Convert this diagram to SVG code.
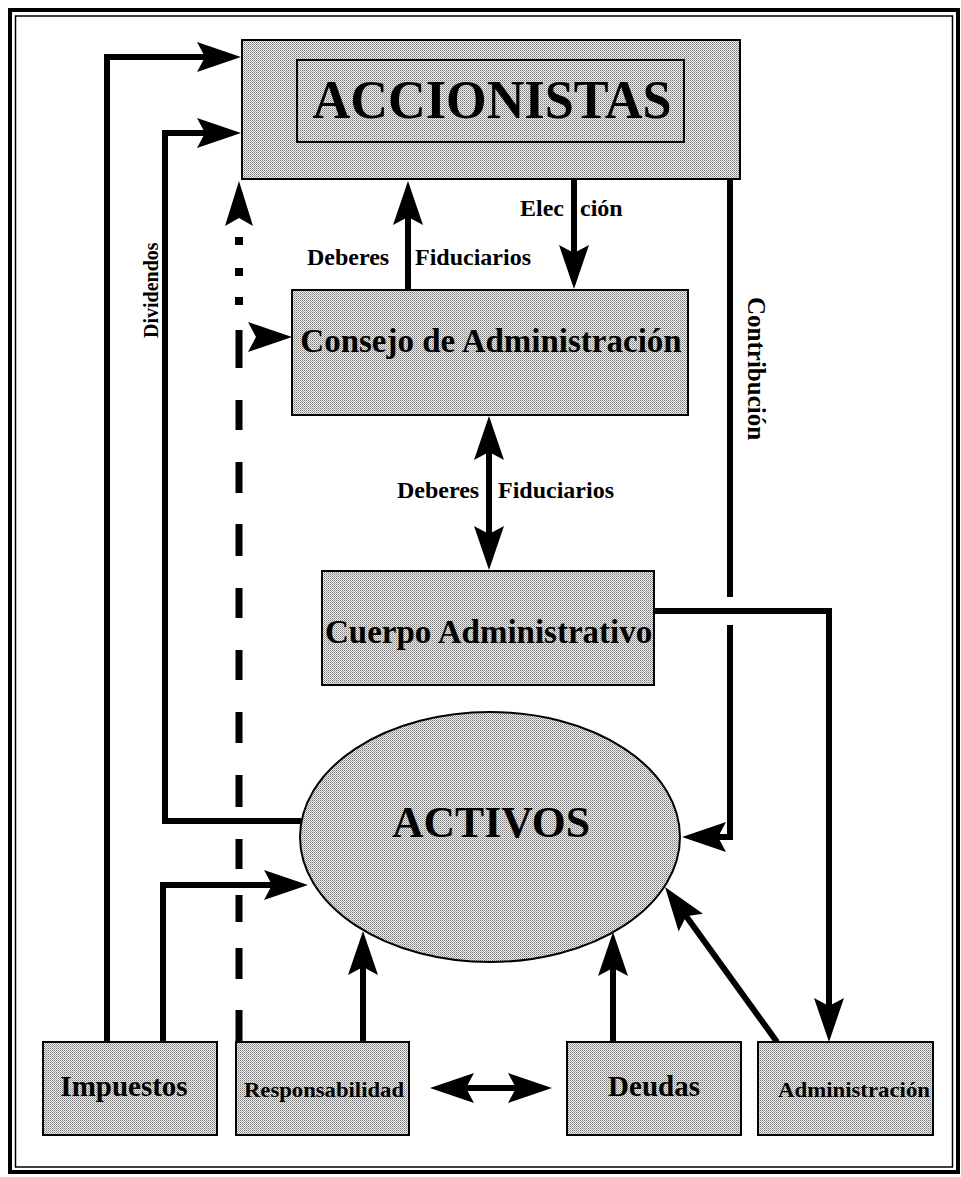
<svg xmlns="http://www.w3.org/2000/svg" width="961" height="1177" viewBox="0 0 961 1177">
<defs>
<pattern id="stip" width="2" height="2" patternUnits="userSpaceOnUse">
<rect width="2" height="2" fill="#eeeeee"/>
<rect x="0" y="0" width="1" height="1" fill="#7a7a7a"/>
<rect x="1" y="1" width="1" height="1" fill="#a8a8a8"/>
</pattern>
<marker id="ah" viewBox="-16 -16 48 32" refX="0" refY="0" markerWidth="48" markerHeight="32" markerUnits="userSpaceOnUse" orient="auto-start-reverse" overflow="visible">
<path d="M30,0 L-14,-15 L-6,0 L-14,15 Z" fill="#000"/>
</marker>
<style>
.box{fill:url(#stip);stroke:#000;stroke-width:2}
.ln{fill:none;stroke:#000;stroke-width:6;stroke-linejoin:miter}
.t{font-family:"Liberation Serif","Times New Roman",serif;font-weight:bold;fill:#000}
</style>
</defs>
<rect width="961" height="1177" fill="#fff"/>
<g id="frame" fill="none" stroke="#000">
<rect x="10" y="10" width="948" height="1162" stroke-width="4"/>
<rect x="15.5" y="16" width="937" height="1151" stroke-width="1.5"/>
</g>
<g id="connectors">
<path class="ln" d="M107,1042 V57 H211" marker-end="url(#ah)"/>
<path class="ln" d="M301,821 H165 V133 H211" marker-end="url(#ah)"/>
<path class="ln" d="M163,1042 V885 H278" marker-end="url(#ah)"/>
<path class="ln" d="M574,179 V259" marker-end="url(#ah)"/>
<path class="ln" d="M408,290 V211" marker-end="url(#ah)"/>
<path class="ln" d="M489,446 V540" marker-start="url(#ah)" marker-end="url(#ah)"/>
<path class="ln" d="M654,611 H829 V1012" marker-end="url(#ah)"/>
<path class="ln" d="M730,179 V597 M730,625 V837 H712" marker-end="url(#ah)"/>
<path class="ln" d="M363,1042 V961" marker-end="url(#ah)"/>
<path class="ln" d="M613,1042 V962" marker-end="url(#ah)"/>
<path class="ln" d="M777,1042 L682.6,911.3" marker-end="url(#ah)"/>
<path class="ln" d="M460,1088 H522" stroke-width="5" marker-start="url(#ah)" marker-end="url(#ah)"/>
<path fill="none" stroke="#000" stroke-width="7" d="M239,330 V368 M239,400 V430 M239,462 V493 M239,524 V556 M239,588 V618 M239,650 V680 M239,712 V743 M239,775 V807 M239,839 V869 M239,895 V922 M239,948 V979 M239,1010 V1042"/>
<rect x="235" y="237" width="8" height="8"/>
<rect x="235" y="268" width="8" height="8"/>
<rect x="235" y="297" width="8" height="8"/>
<polygon points="239,181 225,226 239,218 253,226"/>
<polygon points="292,337 248,322 256,337 248,352"/>
<text class="t" x="520" y="216" font-size="24">Elec<tspan x="580">ción</tspan></text>
<text class="t" y="265" font-size="24"><tspan x="307">Deberes </tspan><tspan x="415">Fiduciarios</tspan></text>
<text class="t" y="498" font-size="24"><tspan x="397">Deberes </tspan><tspan x="498">Fiduciarios</tspan></text>
<text class="t" font-size="20" transform="translate(158,338) rotate(-90)">Dividendos</text>
<text class="t" font-size="25" transform="translate(748,297) rotate(90)">Contribución</text>
</g>
<g id="accionistas">
<rect class="box" x="242" y="40" width="498" height="139"/>
<rect class="box" x="297" y="60" width="387" height="82" stroke-width="2.5"/>
<text class="t" x="492" y="118" font-size="54" text-anchor="middle" textLength="359" lengthAdjust="spacingAndGlyphs">ACCIONISTAS</text>
</g>
<g id="consejo">
<rect class="box" x="292" y="290" width="396" height="125"/>
<text class="t" x="491" y="352" font-size="33" text-anchor="middle">Consejo de Administración</text>
</g>
<g id="cuerpo">
<rect class="box" x="322" y="571" width="332" height="114"/>
<text class="t" x="325" y="643" font-size="33">Cuerpo Administrativo</text>
</g>
<g id="activos">
<ellipse cx="490" cy="837" rx="190" ry="125" fill="url(#stip)" stroke="#000" stroke-width="2"/>
<text class="t" x="491" y="837" font-size="44" text-anchor="middle" textLength="198" lengthAdjust="spacingAndGlyphs">ACTIVOS</text>
</g>
<g id="impuestos">
<rect class="box" x="43" y="1042" width="174" height="93"/>
<text class="t" x="124" y="1096" font-size="29" text-anchor="middle">Impuestos</text>
</g>
<g id="responsabilidad">
<rect class="box" x="236" y="1042" width="173" height="93"/>
<text class="t" x="324" y="1097" font-size="20" text-anchor="middle" textLength="160" lengthAdjust="spacingAndGlyphs">Responsabilidad</text>
</g>
<g id="deudas">
<rect class="box" x="567" y="1042" width="174" height="93"/>
<text class="t" x="654" y="1096" font-size="29" text-anchor="middle">Deudas</text>
</g>
<g id="administracion">
<rect class="box" x="758" y="1042" width="175" height="93"/>
<text class="t" x="854" y="1097" font-size="21" text-anchor="middle" textLength="152" lengthAdjust="spacingAndGlyphs">Administración</text>
</g>
</svg>
